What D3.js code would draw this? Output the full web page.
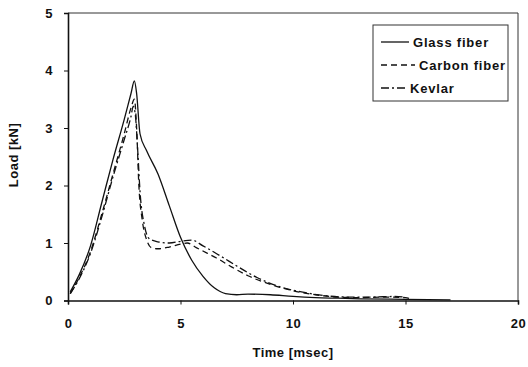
<!DOCTYPE html>
<html>
<head>
<meta charset="utf-8">
<script src="https://cdn.jsdelivr.net/npm/d3@7"></script>
<style>
  body { margin: 0; background: #fff; }
  text { font-family: "Liberation Sans", Arial, sans-serif; font-weight: bold; fill: #111; letter-spacing: 0.5px; }
</style>
</head>
<body>
<div id="chart"></div>
<script>
// time in msec, load in kN
const glassT = [0.1, 0.5, 1.0, 1.5, 2.0, 2.5, 2.8, 2.95, 3.05, 3.2, 3.5, 4.0, 4.5, 5.0, 5.5, 6.0, 6.5, 7.0, 7.5, 8.0, 9.0, 10, 11, 12, 13, 15, 17];
const glassL = [0.15, 0.45, 0.95, 1.7, 2.45, 3.15, 3.6, 3.82, 3.6, 2.9, 2.6, 2.2, 1.65, 1.1, 0.7, 0.42, 0.22, 0.12, 0.1, 0.11, 0.1, 0.07, 0.05, 0.04, 0.03, 0.02, 0.01];

const carbonT = [0.1, 0.5, 1.0, 1.5, 2.0, 2.5, 2.8, 2.95, 3.05, 3.15, 3.3, 3.5, 3.7, 4.0, 4.5, 5.0, 5.3, 5.7, 6.2, 6.6, 7.2, 8.0, 9.0, 10, 11, 12, 13, 14, 15, 15.2];
const carbonL = [0.12, 0.4, 0.85, 1.5, 2.2, 2.9, 3.35, 3.5, 3.0, 2.0, 1.4, 1.05, 0.92, 0.9, 0.93, 0.98, 1.0, 0.92, 0.82, 0.74, 0.6, 0.43, 0.28, 0.17, 0.1, 0.06, 0.05, 0.06, 0.05, 0.03];

const kevlarT = [0.1, 0.5, 1.0, 1.5, 2.0, 2.5, 2.8, 2.9, 3.0, 3.1, 3.2, 3.4, 3.6, 4.0, 4.5, 5.0, 5.5, 6.0, 6.5, 7.0, 7.5, 8.4, 9.4, 10.5, 11.5, 12.5, 13.5, 14.5, 15];
const kevlarL = [0.12, 0.38, 0.82, 1.45, 2.15, 2.8, 3.2, 3.38, 3.2, 2.6, 1.9, 1.3, 1.08, 1.02, 1.0, 1.03, 1.05, 0.95, 0.84, 0.72, 0.6, 0.4, 0.24, 0.14, 0.08, 0.06, 0.06, 0.07, 0.06];

const seriesNames = ["Glass fiber", "Carbon fiber", "Kevlar"];
const xTicks = [0, 5, 10, 15, 20];
const yTicks = [0, 1, 2, 3, 4, 5];

const w = 528, h = 367;
const plotL = 68, plotR = 518, plotT = 13, plotB = 300.5;

const svg = d3.select("#chart").append("svg")
    .attr("width", w)
    .attr("height", h);

const x = d3.scaleLinear().domain([0, 20]).range([plotL, plotR]);
const y = d3.scaleLinear().domain([0, 5]).range([plotB, plotT]);

// plot frame (top + right)
svg.append("path")
    .attr("d", `M${plotL},${plotT}H${plotR}V${plotB}`)
    .attr("fill", "none")
    .attr("stroke", "#333")
    .attr("stroke-width", 1);

const xAxis = svg.append("g")
    .attr("transform", `translate(0,${plotB})`)
    .call(d3.axisBottom(x).tickValues(xTicks).tickFormat(d3.format("d")).tickSize(4).tickPadding(14));
const yAxis = svg.append("g")
    .attr("transform", `translate(${plotL},0)`)
    .call(d3.axisLeft(y).tickValues(yTicks).tickFormat(d3.format("d")).tickSize(4).tickPadding(11));

[xAxis, yAxis].forEach(function(g) {
    g.select(".domain").attr("stroke", "#111").attr("stroke-width", 1.6);
    g.selectAll(".tick line").attr("stroke", "#111");
    g.selectAll(".tick text")
        .style("font-family", '"Liberation Sans", Arial, sans-serif')
        .style("font-weight", "bold")
        .style("font-size", "13px")
        .attr("fill", "#111");
});

svg.append("text")
    .attr("x", (plotL + plotR) / 2)
    .attr("y", 357)
    .attr("text-anchor", "middle")
    .style("font-size", "13px")
    .text("Time [msec]");

svg.append("text")
    .attr("transform", "translate(18,155) rotate(-90)")
    .attr("text-anchor", "middle")
    .style("font-size", "13px")
    .text("Load [kN]");

const dashes = [null, "6,4", "8,3,2,3"];
const series = [
    glassT.map((t, i) => [t, glassL[i]]),
    carbonT.map((t, i) => [t, carbonL[i]]),
    kevlarT.map((t, i) => [t, kevlarL[i]])
];

const line = d3.line()
    .x(d => x(d[0]))
    .y(d => y(d[1]))
    .curve(d3.curveMonotoneX);

series.forEach(function(s, i) {
    svg.append("path")
        .datum(s)
        .attr("d", line)
        .attr("fill", "none")
        .attr("stroke", "#111")
        .attr("stroke-width", 1.3)
        .attr("stroke-dasharray", dashes[i]);
});

// legend
const lg = svg.append("g");
lg.append("rect")
    .attr("x", 373).attr("y", 25)
    .attr("width", 135).attr("height", 76)
    .attr("fill", "#fff")
    .attr("stroke", "#333")
    .attr("stroke-width", 1);

const textX = [413, 419, 410];
seriesNames.forEach(function(name, i) {
    const ly = 42 + i * 23;
    lg.append("line")
        .attr("x1", 381).attr("x2", textX[i] - 4)
        .attr("y1", ly).attr("y2", ly)
        .attr("stroke", "#111")
        .attr("stroke-width", 1.3)
        .attr("stroke-dasharray", dashes[i]);
    lg.append("text")
        .attr("x", textX[i])
        .attr("y", ly + 5)
        .style("font-size", "13px")
        .style("letter-spacing", "0.8px")
        .text(name);
});
</script>
</body>
</html>
